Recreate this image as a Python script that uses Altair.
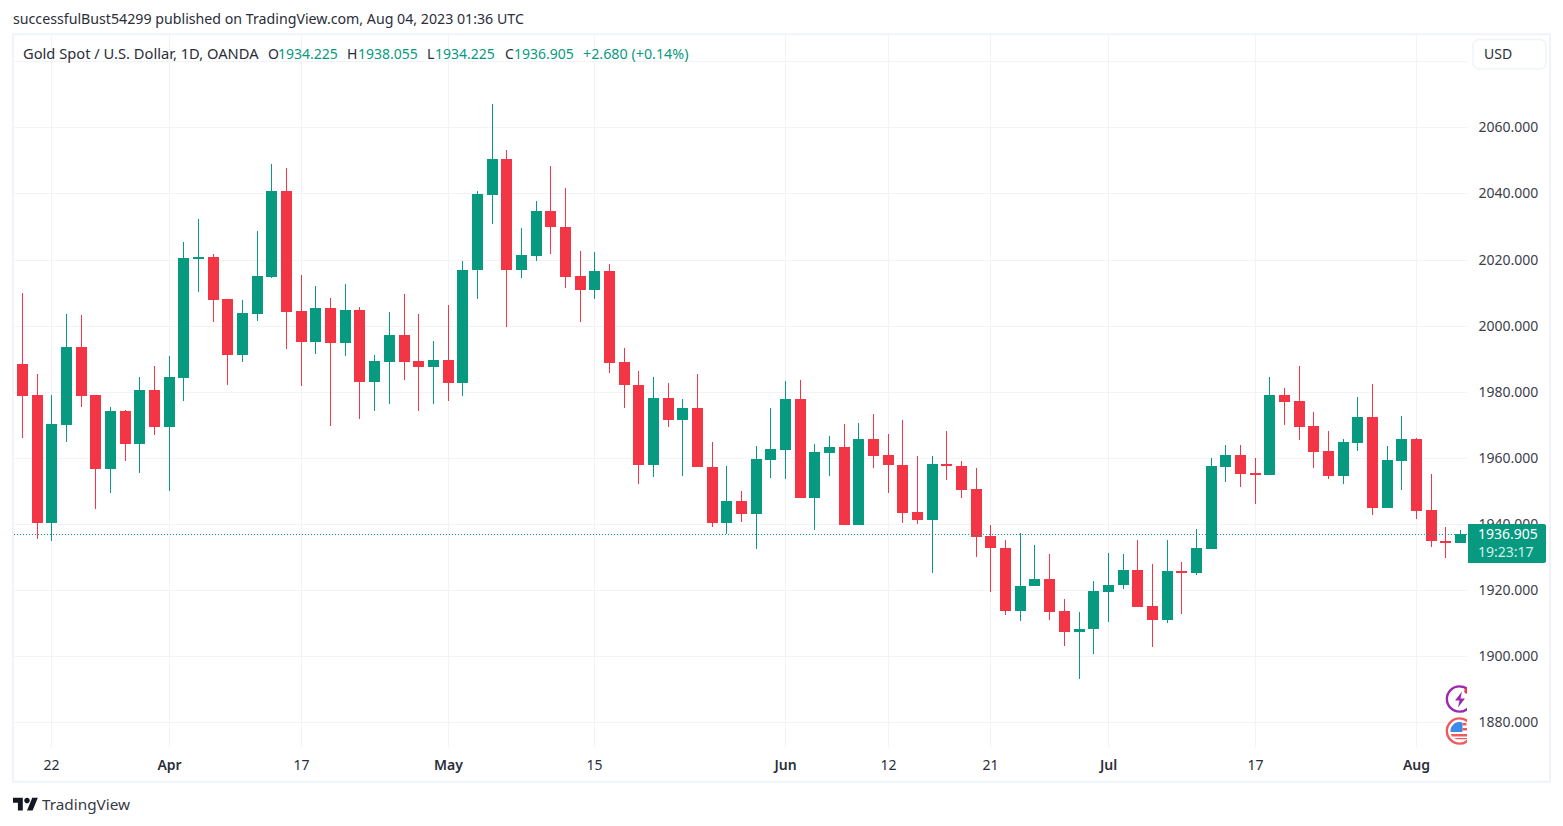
import altair as alt
import pandas as pd

opens = [1988.4,1979.0,1940.4,1970.0,1993.6,1979.0,1956.5,1974.2,1964.3,1980.6,1969.2,1984.3,2020.2,2020.8,2008.1,1991.2,2003.6,2014.8,2040.7,2004.4,
 1994.9,2005.4,1994.6,2004.8,1982.8,1989.1,1997.2,1989.3,1987.6,1989.6,1982.5,2016.7,2039.6,2050.4,2016.7,2021.2,2034.7,2029.9,2015.0,2010.9,
 2016.5,1989.0,1982.1,1957.7,1978.1,1971.6,1975.1,1957.3,1940.4,1947.0,1943.1,1959.5,1962.5,1977.8,1948.0,1961.6,1963.3,1939.8,1965.7,1960.9,
 1957.9,1943.6,1941.3,1958.2,1957.6,1950.6,1936.4,1932.8,1913.8,1921.1,1923.4,1913.7,1907.4,1908.1,1919.5,1921.4,1926.1,1915.2,1910.8,1925.8,
 1925.2,1932.5,1957.3,1960.9,1955.4,1954.9,1979.0,1977.2,1969.6,1962.1,1954.6,1964.6,1972.4,1944.9,1959.2,1965.7,1944.2,1934.9,1934.225]
highs = [2009.9,1985.4,1979.0,2003.5,2003.2,1979.0,1975.4,1974.5,1984.5,1987.8,1990.8,2025.3,2032.3,2021.7,2008.1,2007.8,2028.6,2048.9,2047.7,2015.3,
 2012.0,2008.4,2012.6,2005.7,1991.1,2004.1,2009.6,2003.5,1995.4,2006.3,2019.6,2040.7,2067.1,2053.2,2029.6,2037.7,2048.3,2041.7,2022.6,2022.3,
 2018.7,1993.3,1986.3,1984.5,1982.7,1977.8,1985.4,1964.8,1957.6,1950.0,1963.6,1975.1,1983.3,1983.6,1964.2,1966.6,1970.3,1970.6,1973.3,1967.2,
 1971.5,1960.6,1960.6,1968.1,1959.1,1957.0,1939.7,1935.2,1937.3,1933.7,1930.9,1917.3,1913.4,1922.8,1931.2,1930.9,1935.2,1927.9,1935.2,1928.5,
 1938.5,1959.9,1963.9,1963.9,1959.9,1984.4,1981.1,1987.8,1973.8,1968.1,1965.7,1978.4,1982.3,1963.6,1972.6,1965.9,1955.1,1939.1,1938.055]
lows = [1966.1,1935.6,1934.7,1964.9,1975.5,1944.4,1949.5,1958.9,1955.5,1967.0,1950.1,1977.3,2010.3,2001.2,1981.9,1989.1,2001.5,2014.5,1992.8,1981.6,
 1991.5,1969.5,1990.9,1971.9,1974.3,1976.4,1983.7,1974.3,1976.4,1977.3,1978.8,2008.2,2030.6,1999.7,2014.5,2019.7,2021.8,2011.5,2001.2,2008.2,
 1985.8,1975.2,1952.2,1954.3,1969.2,1954.6,1957.1,1939.2,1937.1,1940.7,1932.3,1954.0,1953.7,1948.0,1938.3,1954.5,1939.8,1939.8,1956.8,1949.5,
 1940.4,1940.1,1925.3,1953.4,1948.0,1930.1,1919.5,1912.6,1910.5,1921.1,1911.1,1903.2,1893.2,1900.8,1910.2,1920.2,1915.0,1902.9,1909.9,1912.7,
 1924.5,1932.5,1952.7,1951.2,1946.0,1954.9,1970.0,1965.4,1957.0,1953.6,1952.1,1962.2,1942.7,1944.9,1950.3,1941.5,1933.0,1929.7,1934.225]
closes = [1978.8,1940.4,1970.3,1993.6,1978.8,1956.5,1974.2,1964.3,1980.6,1969.2,1984.5,2020.5,2020.8,2007.9,1991.2,2003.8,2015.0,2040.7,2004.2,1994.9,
 2005.4,1994.6,2004.8,1982.8,1989.3,1997.2,1989.1,1987.6,1989.6,1982.5,2016.9,2039.8,2050.4,2016.7,2021.4,2034.7,2029.7,2014.8,2010.9,2016.5,
 1988.8,1981.9,1957.7,1978.1,1971.6,1975.1,1957.1,1940.4,1947.0,1943.1,1959.7,1962.7,1977.8,1948.0,1961.8,1963.3,1939.8,1965.7,1960.7,1957.7,
 1943.4,1941.3,1958.2,1957.4,1950.4,1936.2,1932.6,1913.8,1921.3,1923.4,1913.5,1907.4,1908.3,1919.7,1921.6,1926.1,1915.0,1910.8,1925.8,1925.2,
 1932.7,1957.5,1960.9,1955.2,1954.9,1979.0,1977.0,1969.4,1961.9,1954.6,1964.8,1972.4,1944.9,1959.4,1965.7,1944.0,1934.7,1934.1,1936.905]

price_ticks = [1880, 1900, 1920, 1940, 1960, 1980, 2000, 2020, 2040, 2060, 2080]
time_tick_pos = [2, 10, 19, 29, 39, 52, 59, 66, 74, 84, 95]
time_tick_text = ["22", "Apr", "17", "May", "15", "Jun", "12", "21", "Jul", "17", "Aug"]

UP, DOWN = "#089981", "#F23645"
INK = "#2A2E39"
FRAME = "#F0F3FA"
GRID = "#F2F3F6"
FONT = "Noto Sans"

df = pd.DataFrame({"i": range(len(opens)), "o": opens, "h": highs, "l": lows, "c": closes})
df["dir"] = ["up" if c >= o else "down" for o, c in zip(opens, closes)]

one = pd.DataFrame({"k": [0]})

xscale = alt.Scale(domain=[-0.545, 98.475], nice=False, zero=False, round=True, padding=0)
yscale = alt.Scale(domain=[1872.53, 2087.92], nice=False, zero=False, round=True)
cscale = alt.Scale(domain=["up", "down"], range=[UP, DOWN])

label_expr = "{" + ",".join(f"'{p}':'{t}'" for p, t in zip(time_tick_pos, time_tick_text)) + "}[datum.value]"
month_test = " || ".join(f"datum.value === {p}" for p, t in zip(time_tick_pos, time_tick_text) if t.isalpha())

x_axis = alt.Axis(values=time_tick_pos, labelExpr=label_expr, title=None, grid=True, gridColor=GRID, gridWidth=1,
                  domain=False, ticks=False, labelPadding=11, labelFont=FONT, labelFontSize=14, labelColor=INK,
                  labelFontWeight={"condition": {"test": month_test, "value": 600}, "value": 400},
                  labelOverlap=False, labelFlush=False)
y_axis = alt.Axis(orient="right", values=price_ticks, format=".3f", title=None, grid=True, gridColor=GRID, gridWidth=1,
                  domain=False, ticks=False, labelPadding=11, labelFont=FONT, labelFontSize=14, labelColor="#3c404b",
                  labelOverlap=False, labelFlush=False)

base = alt.Chart(df)
wicks = base.mark_rule(strokeWidth=1, xOffset=0.5).encode(
    x=alt.X("i:Q", scale=xscale, axis=x_axis),
    y=alt.Y("h:Q", scale=yscale, axis=y_axis),
    y2="l:Q",
    color=alt.Color("dir:N", scale=cscale, legend=None),
)
bodies = base.mark_bar(size=11, stroke=None, xOffset=0.5).encode(
    x=alt.X("i:Q", scale=xscale),
    y=alt.Y("o:Q", scale=yscale),
    y2="c:Q",
    color=alt.Color("dir:N", scale=cscale, legend=None),
)
last_line = alt.Chart(df.tail(1)).mark_rule(color=UP, strokeWidth=1, strokeDash=[1, 2], yOffset=0.5).encode(
    y=alt.Y("c:Q", scale=yscale)
)


def rect(x, x2, y, y2, **kw):
    return alt.Chart(one).mark_rect(**kw).encode(
        x=alt.value(x), x2=alt.value(x2), y=alt.value(y), y2=alt.value(y2))


def text(s, x, y, size=14, color=INK, **kw):
    return alt.Chart(one).mark_text(text=s, align="left", baseline="middle", font=FONT, fontSize=size, color=color, **kw).encode(
        x=alt.value(x), y=alt.value(y))


def sym(x, y, shape, size, clip=True, **kw):
    return alt.Chart(one).mark_point(shape=shape, size=size, clip=clip, opacity=1, **kw).encode(
        x=alt.value(x), y=alt.value(y))


frame = rect(-1, 1536, -0.7, 746.7, fill=None, stroke=FRAME, strokeWidth=2)
usd_box = rect(1459, 1532, 4.5, 34, fill="white", stroke=FRAME, strokeWidth=1.5, cornerRadius=6)
tag = rect(1454, 1532, 489, 528, fill=UP, cornerRadiusTopRight=2, cornerRadiusBottomRight=2)

texts = [
    text("successfulBust54299 published on TradingView.com, Aug 04, 2023 01:36 UTC", -1, -15.5, size=14.2),
    text("Gold Spot / U.S. Dollar, 1D, OANDA", 9, 19.5, size=14.7),
    text("O", 254, 19.5), text("1934.225", 264, 19.5, color=UP),
    text("H", 333, 19.5), text("1938.055", 344, 19.5, color=UP),
    text("L", 413, 19.5), text("1934.225", 421, 19.5, color=UP),
    text("C", 491, 19.5), text("1936.905", 500, 19.5, color=UP),
    text("+2.680 (+0.14%)", 569, 19.5, size=14.3, color=UP),
    text("USD", 1470, 20),
    text("1936.905", 1464, 500, color="white"),
    text("19:23:17", 1464, 518, color="#D5EEE8"),
    text("TradingView", 28, 769.5, size=15.3, color="#363A45"),
]

icons = [
    sym(1445.5, 664, "circle", 640, filled=False, stroke="#9C27B0", strokeWidth=2.4),
    sym(1446, 664.5, "M2,-8 L-5,1 H-0.5 L-2,8 L5,-1 H0.5 Z", 4, filled=True, fill="#9C27B0", stroke=None),
    sym(1453, 656, "circle", 30, filled=True, fill="#F23645", stroke=None),
    sym(1445.5, 696, "circle", 640, filled=True, fill="white", stroke="#F05A5F", strokeWidth=2.4),
    sym(1445.5, 696, "M-9,1 A9,9 0 0 1 3,-8.5 L3,1 Z", 4, filled=True, fill="#3D8BE8", stroke=None),
    sym(1445.5, 696, "M3,-8 H7 V-5.5 H3 Z M3,-3 H9 V-0.5 H3 Z", 4, filled=True, fill="#F05A5F", stroke=None),
    sym(1445.5, 696, "M-8.6,3 H9 V5.5 H-7.7 Z M-5.5,7 H9 V8.2 H-3 Z", 4, filled=True, fill="#F05A5F", stroke=None),
]

logo = sym(-1, 760, "M14 22H7V11H0V4h14v18zM28 22h-8l7.5-18h8L28 22zM24 8a4 4 0 1 1-8 0a4 4 0 0 1 8 0z", 1.96,
           clip=False, filled=True, fill="#131722", stroke=None)

chart = alt.layer(
    wicks, bodies, last_line, *icons, frame, usd_box, tag, logo, *texts
).properties(
    width=1453, height=712,
    padding={"left": 6, "top": 27, "right": 88, "bottom": 70},
    autosize=alt.AutoSizeParams(type="none"),
    background="white",
).resolve_scale(
    color="shared"
).configure_view(stroke=None)

chart.save("out.html", embed_options={"renderer": "svg", "actions": False})
